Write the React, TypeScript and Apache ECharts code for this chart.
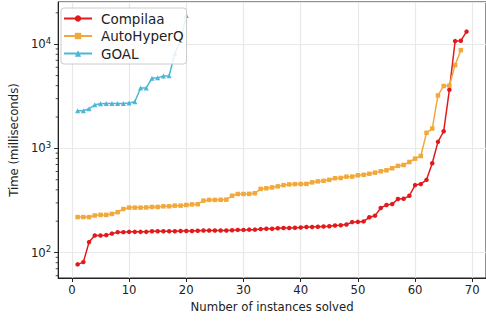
import React, { useEffect, useRef } from "react";
import * as echarts from "echarts";

const compilaa = [77, 81, 126, 146, 146, 147, 152, 157, 157, 158, 158, 158, 158, 160, 160, 160, 160, 160, 161, 161, 161, 162, 163, 163, 163, 163, 163, 164, 165, 165, 166, 166, 168, 169, 169, 171, 172, 172, 173, 174, 176, 176, 177, 178, 179, 182, 183, 186, 196, 197, 199, 218, 226, 268, 286, 292, 327, 328, 351, 444, 454, 499, 719, 1155, 1460, 3650, 10700, 10800, 13200];
const autoHyperQ = [219, 219, 219, 227, 230, 230, 235, 244, 262, 270, 270, 270, 271, 274, 274, 278, 278, 282, 282, 286, 290, 291, 315, 320, 320, 321, 322, 351, 365, 365, 366, 371, 408, 414, 422, 432, 444, 451, 454, 455, 456, 472, 482, 488, 499, 517, 520, 535, 536, 552, 557, 570, 585, 603, 616, 645, 679, 693, 740, 797, 845, 1410, 1550, 3220, 3970, 4010, 6300, 8770];
const goal = [2300, 2300, 2400, 2620, 2680, 2690, 2690, 2700, 2700, 2720, 2800, 3790, 3800, 4710, 4750, 4960, 4980, 8140, 10900, 18900];
const xTicks = [0, 10, 20, 30, 40, 50, 60, 70];
const yMinorTicks = [60, 70, 80, 90, 200, 300, 400, 500, 600, 700, 800, 900, 2000, 3000, 4000, 5000, 6000, 7000, 8000, 9000, 20000];

const X_MIN = -2.4;
const X_MAX = 72.4;
const FONT = "DejaVu Sans";
const FS = 11.7;

const toPairs = (arr: number[]) => arr.map((v, i) => [i + 1, v]);

export default function App() {
  const ref = useRef<HTMLDivElement>(null);
  useEffect(() => {
    if (!ref.current) return;
    const chart = echarts.init(ref.current, undefined, { renderer: "svg" });
    const lineSeries = (name: string, data: number[], color: string, symbol: string, size: number) => ({
      name,
      type: "line",
      data: toPairs(data),
      symbol,
      symbolSize: size,
      showSymbol: true,
      color,
      lineStyle: { width: 1.5, color },
      itemStyle: { color },
      z: 3,
    });
    chart.setOption({
      animation: false,
      backgroundColor: "#ffffff",
      textStyle: { fontFamily: FONT },
      grid: {
        left: 55,
        right: -3,
        top: 2,
        bottom: 44,
        show: true,
        borderColor: "#222",
        borderWidth: 1,
      },
      legend: {
        data: ["Compilaa", "AutoHyperQ", "GOAL"],
        orient: "vertical",
        left: 61,
        top: 8,
        itemWidth: 28,
        itemHeight: 8,
        itemGap: 2.5,
        padding: [3, 3, 3, 2],
        backgroundColor: "rgba(255,255,255,0.85)",
        borderColor: "#cccccc",
        borderWidth: 1,
        borderRadius: 3,
        textStyle: { fontFamily: FONT, fontSize: 13.5, color: "#222", lineHeight: 15, padding: [0, 0, 0, 4] },
      },
      xAxis: {
        type: "value",
        min: X_MIN,
        max: X_MAX,
        name: "Number of instances solved",
        nameLocation: "middle",
        nameGap: 23,
        nameTextStyle: { fontFamily: FONT, fontSize: FS, color: "#222" },
        axisLine: { show: true, onZero: false, lineStyle: { color: "#222", width: 1 } },
        axisTick: { show: true, length: 4, lineStyle: { color: "#222" }, customValues: xTicks },
        axisLabel: { fontFamily: FONT, fontSize: FS, color: "#222", margin: 6, customValues: xTicks },
        splitLine: { show: true, lineStyle: { color: "#e8e8e8", width: 1.2 } },
      },
      yAxis: {
        type: "log",
        logBase: 10,
        min: 57,
        max: 25400,
        name: "Time (milliseconds)",
        nameLocation: "middle",
        nameGap: 36,
        nameTextStyle: { fontFamily: FONT, fontSize: FS, color: "#222" },
        axisLine: { show: true, onZero: false, lineStyle: { color: "#222", width: 1 } },
        axisTick: { show: true, length: 4, lineStyle: { color: "#222" } },
        axisLabel: {
          showMinLabel: false,
          showMaxLabel: false,
          margin: 7,
          formatter: (v: number) => {
            const e = Math.round(Math.log10(v));
            return `{b|10}{s|${e}}`;
          },
          rich: {
            b: { fontFamily: FONT, fontSize: FS, color: "#222", lineHeight: 16 },
            s: { fontFamily: FONT, fontSize: 8.5, color: "#222", lineHeight: 8, verticalAlign: "top" },
          },
        },
        splitLine: { show: true, lineStyle: { color: "#e8e8e8", width: 1.2 } },
      },
      series: [
        lineSeries("Compilaa", compilaa, "#e31a1c", "circle", 4.5),
        lineSeries("AutoHyperQ", autoHyperQ, "#f2a93b", "rect", 4.5),
        lineSeries("GOAL", goal, "#4eb6d6", "triangle", 5),
        {
          name: "minorTicks",
          type: "custom",
          coordinateSystem: "cartesian2d",
          silent: true,
          clip: false,
          data: yMinorTicks.map((v) => [X_MIN, v]),
          encode: { x: 0, y: 1 },
          renderItem: (params: any, api: any) => {
            const p = api.coord([api.value(0), api.value(1)]);
            return {
              type: "line",
              shape: { x1: p[0] - 2.5, y1: p[1], x2: p[0], y2: p[1] },
              style: { stroke: "#222", lineWidth: 0.8 },
            };
          },
          z: 5,
        },
      ],
    });
    return () => chart.dispose();
  }, []);
  return <div ref={ref} style={{ width: 486, height: 322, position: "absolute", left: 0, top: 0 }} />;
}
